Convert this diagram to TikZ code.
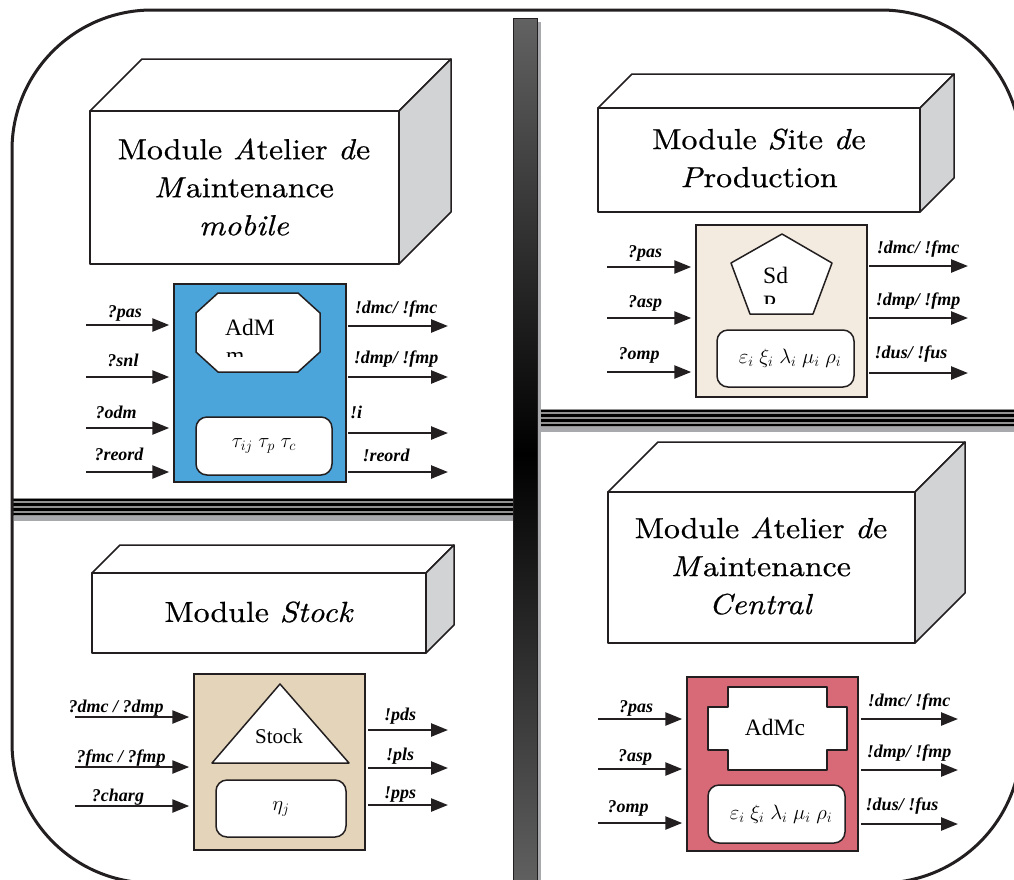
\documentclass[tikz,border=0pt]{standalone}
\usepackage{fontspec}
\usepackage{tikz}
\usetikzlibrary{arrows.meta,calc}
\newfontfamily\titlef{lmroman10-regular.otf}[ItalicFont=lmroman10-italic.otf, FakeStretch=1.1, FakeBold=0.6]
\newfontfamily\timesf{Liberation Serif}
\definecolor{ink}{HTML}{231F20}
\definecolor{blueA}{HTML}{4BA5DA}
\definecolor{sandA}{HTML}{F3EBDF}
\definecolor{tanA}{HTML}{E4D5BA}
\definecolor{roseA}{HTML}{D86977}
\definecolor{side}{HTML}{D1D3D4}
\definecolor{barshadow}{HTML}{A7A9AC}
\definecolor{bargray}{HTML}{626262}
\tikzstyle{arrow} = [draw=ink, line width=2.5pt, -{Triangle[length=17pt,width=13pt]}]
\tikzstyle{lab} = [anchor=base, inner sep=0pt, font=\timesf\bfseries\itshape\fontsize{18}{20}\selectfont]
\tikzstyle{module} = [draw=ink, line width=1.5pt, inner sep=0pt]
\tikzstyle{param} = [draw=ink, fill=white, line width=1.5pt, rounded corners=11pt, inner sep=0pt, font=\fontsize{20.74}{25}\selectfont]
\tikzstyle{corebox} = [draw=ink, fill=white, line width=1.5pt, line join=round]
\tikzstyle{tag} = [anchor=base west, inner sep=0pt, font=\timesf\fontsize{23.5}{28}\selectfont]
\tikzstyle{title} = [align=center, inner sep=0pt, font=\titlef\fontsize{29}{38}\selectfont]
\tikzstyle{face} = [draw=ink, line width=1.5pt, line join=round]

\begin{document}
\begin{tikzpicture}[x=1pt, y=-1pt]
      \useasboundingbox (0,0) rectangle (1014,879);
      \clip (0,0) rectangle (1014,879);
      \fill[white] (0,0) rectangle (1014,879);

      \foreach \xa/\ya/\xb/\yb/\d in {90/111/399/264/52, 598/108/920/212/34, 92/573/426/653/28, 608/492/915/643/50}{
        \filldraw[face, fill=white] (\xa,\ya) -- (\xa+\d,\ya-\d) -- (\xb+\d,\ya-\d) -- (\xb,\ya) -- cycle;
        \filldraw[face, fill=side] (\xb,\ya) -- (\xb+\d,\ya-\d) -- (\xb+\d,\yb-\d) -- (\xb,\yb) -- cycle;
        \filldraw[face, fill=white] (\xa,\ya) rectangle (\xb,\yb);
      }
      \node (titleamm) at (244,187) [title] {Module \textit{A}telier \textit{d}e\\\textit{M}aintenance\\\textit{mobile}};
      \node (titlesdp) at (759,158) [title] {Module \textit{S}ite \textit{d}e\\\textit{P}roduction};
      \node (titlestk) at (259,612) [title] {Module \textit{Stock}};
      \node (titleamc) at (761,566) [title] {Module \textit{A}telier \textit{d}e\\\textit{M}aintenance\\\textit{Central}};

      \fill[bargray!70] (12,498) rectangle (513,516);
      \foreach \k in {0,1,2,3}
        \draw[black, line width=2.6pt] (12,500+4.6*\k) -- (513,500+4.6*\k);
      \fill[barshadow] (14,516) rectangle (513,521);
      \fill[bargray!70] (540,409) rectangle (1014,427);
      \foreach \k in {0,1,2,3}
        \draw[black, line width=2.6pt] (540,411+4.6*\k) -- (1014,411+4.6*\k);
      \fill[barshadow] (540,427) rectangle (1014,432);
      \fill[barshadow] (537,22) rectangle (541,890);
      \shade[top color=bargray, bottom color=bargray, middle color=black] (513,18) rectangle (537,890);
      \draw[ink, line width=1pt] (513,18) rectangle (537,890);

      \draw[ink, line width=3pt, rounded corners=140pt] (12,10) rectangle (1021,883);

      \node (mam) at (260,383) [module, fill=blueA, minimum width=172pt, minimum height=198pt] {};
      \filldraw[corebox] (218,293) -- (298,293) -- (320,313) -- (320,352) -- (298,372) -- (218,372) -- (196,352) -- (196,313) -- cycle;
      \node (mamname) at (225,335) [tag] {AdM};
      \begin{scope}
        \clip (200,340) rectangle (318,356);
        \node (mamcut) at (226,363) [tag] {m};
      \end{scope}
      \node (mampar) at (264,446) [param, minimum width=136pt, minimum height=58pt] {$\tau_{ij}\;\tau_p\;\tau_c$};
      \foreach \y/\lx/\ly/\txt in {325/125/317/{?pas}, 377/123/366/{?snl}, 428/116/418/{?odm}, 472/119/460/{?reord}}{
        \coordinate (mamin\y) at (86,\y);
        \draw[arrow, shorten >=4pt] (mamin\y) -- (mamin\y -| mam.west);
        \node (maminlab\y) at (\lx,\ly) [lab] {\txt};
      }
      \foreach \y/\lx/\ly/\txt in {326/396/313/{!dmc/ !fmc}, 377/396/363/{!dmp/ !fmp}, 433/356/418/{!i}, 472/386/461/{!reord}}{
        \coordinate (mamout\y) at (448,\y);
        \draw[arrow, shorten <=1pt] (mamout\y -| mam.east) -- (mamout\y);
        \node (mamoutlab\y) at (\lx,\ly) [lab] {\txt};
      }

      \node (sdp) at (781.5,311) [module, fill=sandA, minimum width=171pt, minimum height=172pt] {};
      \filldraw[corebox] (782,234) -- (832,263) -- (813,314) -- (750,314) -- (731,263) -- cycle;
      \node (sdpname) at (763,283) [tag] {Sd};
      \begin{scope}
        \clip (740,290) rectangle (830,303);
        \node (sdpcut) at (763,311) [tag] {P};
      \end{scope}
      \node (sdppar) at (785.5,358.5) [param, minimum width=137pt, minimum height=57pt] {\hspace*{9pt}$\varepsilon_i\;\xi_i\;\lambda_i\;\mu_i\;\rho_i$};
      \foreach \y/\lx/\ly/\txt in {267/645/257/{?pas}, 318/645/307/{?asp}, 372/639/359/{?omp}}{
        \coordinate (sdpin\y) at (607,\y);
        \draw[arrow, shorten >=4pt] (sdpin\y) -- (sdpin\y -| sdp.west);
        \node (sdpinlab\y) at (\lx,\ly) [lab] {\txt};
      }
      \foreach \y/\lx/\ly/\txt in {266/918/253/{!dmc/ !fmc}, 318/918/305/{!dmp/ !fmp}, 373/911/358/{!dus/ !fus}}{
        \coordinate (sdpout\y) at (968,\y);
        \draw[arrow, shorten <=1pt] (sdpout\y -| sdp.east) -- (sdpout\y);
        \node (sdpoutlab\y) at (\lx,\ly) [lab] {\txt};
      }

      \node (stk) at (279.5,762) [module, fill=tanA, minimum width=171pt, minimum height=176pt] {};
      \filldraw[corebox] (280,684) -- (349,763) -- (212,763) -- cycle;
      \node (stkname) at (279,743) [tag, anchor=base, font=\timesf\fontsize{21}{25}\selectfont] {Stock};
      \node (stkpar) at (281,808.5) [param, minimum width=130pt, minimum height=57pt] {$\eta_j$};
      \foreach \y/\lx/\ly/\txt in {717/116/712/{?dmc / ?dmp}, 767/121/762/{?fmc / ?fmp}, 806/118/801/{?charg}}{
        \coordinate (stkin\y) at (75,\y);
        \draw[arrow, shorten >=4pt] (stkin\y) -- (stkin\y -| stk.west);
        \node (stkinlab\y) at (\lx,\ly) [lab] {\txt};
      }
      \foreach \y/\lx/\ly/\txt in {730/400/720/{!pds}, 768/400/760/{!pls}, 805/400/798/{!pps}}{
        \coordinate (stkout\y) at (448,\y);
        \draw[arrow, shorten <=2pt] (stkout\y -| stk.east) -- (stkout\y);
        \node (stkoutlab\y) at (\lx,\ly) [lab] {\txt};
      }

      \node (amc) at (772.5,764) [module, fill=roseA, minimum width=171pt, minimum height=174pt] {};
      \filldraw[corebox] (728,687) -- (827,687) -- (827,707) -- (847,707) -- (847,750) -- (827,750) -- (827,770) -- (728,770) -- (728,750) -- (708,750) -- (708,707) -- (728,707) -- cycle;
      \node (amcname) at (775,735) [tag, anchor=base] {AdMc};
      \node (amcpar) at (776.5,814) [param, minimum width=137pt, minimum height=58pt] {\hspace*{9pt}$\varepsilon_i\;\xi_i\;\lambda_i\;\mu_i\;\rho_i$};
      \foreach \y/\lx/\ly/\txt in {719/636/712/{?pas}, 769/635/761/{?asp}, 823/628/812/{?omp}}{
        \coordinate (amcin\y) at (598,\y);
        \draw[arrow, shorten >=4pt] (amcin\y) -- (amcin\y -| amc.west);
        \node (amcinlab\y) at (\lx,\ly) [lab] {\txt};
      }
      \foreach \y/\lx/\ly/\txt in {719/909/706/{!dmc/ !fmc}, 770/909/757/{!dmp/ !fmp}, 824/902/810/{!dus/ !fus}}{
        \coordinate (amcout\y) at (958,\y);
        \draw[arrow, shorten <=2pt] (amcout\y -| amc.east) -- (amcout\y);
        \node (amcoutlab\y) at (\lx,\ly) [lab] {\txt};
      }
    \end{tikzpicture}
\end{document}
